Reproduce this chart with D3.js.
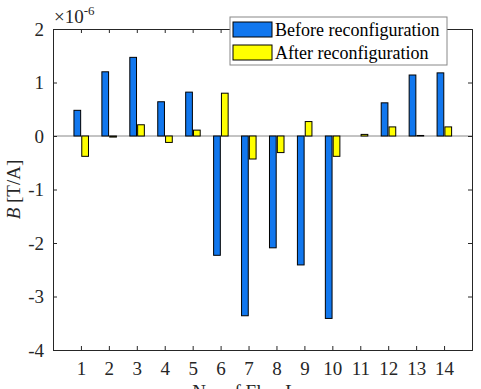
<!DOCTYPE html>
<html>
<head>
<meta charset="utf-8">
<script src="https://cdn.jsdelivr.net/npm/d3@7"></script>
<style>
  body { margin: 0; background: #fff; }
  svg text { font-family: "Liberation Serif", "Times New Roman", serif; }
</style>
</head>
<body>
<svg width="481" height="389"></svg>
<script>
// flux loop numbers and field values (x 1e-6 T/A)
const loops = [1, 2, 3, 4, 5, 6, 7, 8, 9, 10, 11, 12, 13, 14];
const before = [0.48, 1.20, 1.47, 0.64, 0.82, -2.23, -3.36, -2.09, -2.41, -3.41, 0, 0.62, 1.14, 1.18];
const after = [-0.38, -0.02, 0.21, -0.12, 0.11, 0.80, -0.43, -0.31, 0.27, -0.38, 0.03, 0.17, 0.01, 0.17];
const yTicks = [-4, -3, -2, -1, 0, 1, 2];
const seriesNames = ["Before reconfiguration", "After reconfiguration"];
const colors = ["#1177ee", "#ffff00"];

const svg = d3.select("svg");
const margin = {top: 29, right: 9, bottom: 39, left: 53};
const width = +svg.attr("width") - margin.left - margin.right;
const height = +svg.attr("height") - margin.top - margin.bottom;
const axisColor = "#262626";
const serif = "'Liberation Serif', 'Times New Roman', serif";

const g = svg.append("g").attr("transform", "translate(" + margin.left + "," + margin.top + ")");

const x = d3.scaleLinear().domain([0, 15]).range([0, width]);
const y = d3.scaleLinear().domain([-4, 2]).range([height, 0]);

// zero line
g.append("line")
  .attr("x1", 0).attr("x2", width)
  .attr("y1", y(0)).attr("y2", y(0))
  .attr("stroke", "#888").attr("stroke-width", 1);

// bars: blue left of the tick, yellow right of it
const barW = 0.24;
const offsets = [-0.25, 0.03];
[before, after].forEach(function(vals, s) {
  g.selectAll(".bar" + s)
    .data(vals)
    .enter().append("rect")
      .attr("class", "bar" + s)
      .attr("x", function(d, i) { return x(loops[i] + offsets[s]); })
      .attr("width", x(barW) - x(0))
      .attr("y", function(d) { return y(Math.max(0, d)); })
      .attr("height", function(d) { return Math.abs(y(d) - y(0)); })
      .attr("fill", colors[s])
      .attr("stroke", "#000")
      .attr("stroke-width", 1);
});

// plain hyphen for negatives, like the source
const fmt = function(d) { return String(d); };

// axes with inward ticks, MATLAB-like box
const xAxis = d3.axisBottom(x).tickValues(loops).tickSize(-4).tickPadding(12).tickFormat(fmt);
const xTop = d3.axisTop(x).tickValues(loops).tickSize(-4).tickFormat("");
const yAxis = d3.axisLeft(y).tickValues(yTicks).tickSize(-4).tickPadding(9).tickFormat(fmt);
const yRight = d3.axisRight(y).tickValues(yTicks).tickSize(-4).tickFormat("");

const axes = [
  g.append("g").attr("transform", "translate(0," + height + ")").call(xAxis),
  g.append("g").call(xTop),
  g.append("g").call(yAxis),
  g.append("g").attr("transform", "translate(" + width + ",0)").call(yRight)
];
axes.forEach(function(a) {
  a.select(".domain").attr("stroke", axisColor).attr("stroke-width", 1);
  a.selectAll(".tick line").attr("stroke", axisColor);
  a.selectAll(".tick text")
    .attr("fill", axisColor)
    .style("font-family", serif)
    .style("font-size", "19px");
});

// exponent label
const expo = svg.append("text")
  .attr("x", margin.left + 1).attr("y", 23)
  .attr("fill", axisColor)
  .style("font-size", "19px");
expo.append("tspan").text("\u00d710");
expo.append("tspan").attr("dy", -8).style("font-size", "13px").text("-6");

// y label
const ylab = svg.append("text")
  .attr("transform", "translate(20," + (margin.top + height / 2) + ") rotate(-90)")
  .attr("text-anchor", "middle")
  .attr("fill", axisColor)
  .style("font-size", "19px");
ylab.append("tspan").style("font-style", "italic").text("B");
ylab.append("tspan").text(" [T/A]");

// x label (partially cut by the bottom edge, as in the source)
svg.append("text")
  .attr("x", margin.left + width / 2)
  .attr("y", 398)
  .attr("text-anchor", "middle")
  .attr("fill", axisColor)
  .style("font-size", "19px")
  .text("No. of Flux Loops");

// legend
const leg = svg.append("g").attr("transform", "translate(230,17)");
leg.append("rect")
  .attr("width", 217).attr("height", 48)
  .attr("fill", "#fff").attr("stroke", "#888");
seriesNames.forEach(function(name, i) {
  leg.append("rect")
    .attr("x", 3).attr("y", 5 + i * 23)
    .attr("width", 39).attr("height", 15)
    .attr("fill", colors[i]).attr("stroke", "#000");
  leg.append("text")
    .attr("x", 45).attr("y", 19 + i * 23)
    .attr("fill", "#000")
    .style("font-size", "18px")
    .text(name);
});
</script>
</body>
</html>
